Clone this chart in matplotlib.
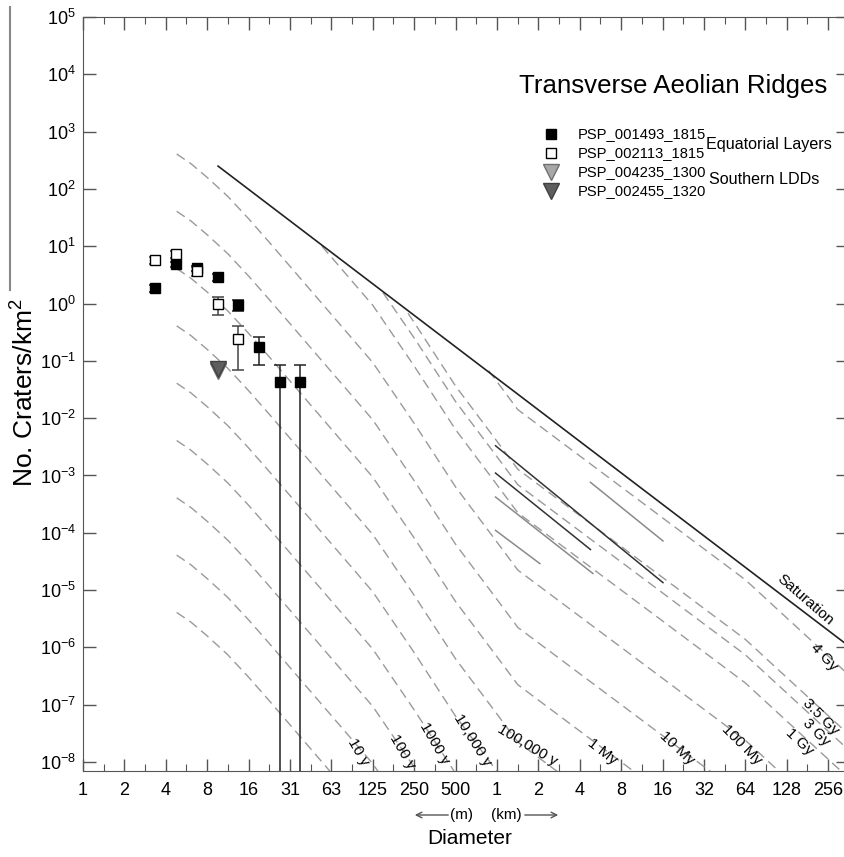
import numpy as np
import matplotlib
matplotlib.use('Agg')
import matplotlib.pyplot as plt
from matplotlib.ticker import FixedLocator, NullFormatter
from matplotlib.lines import Line2D

plt.rcParams.update({
    "font.family": ["Liberation Sans", "DejaVu Sans"],
    "mathtext.default": "regular",
})
NARROW = ["Liberation Sans Narrow", "Liberation Sans", "DejaVu Sans"]

# --- crater counts (diameter in m, N per km^2) ---
bin_d = [3.36, 4.76, 6.73, 9.51, 13.45, 19.0, 26.9, 38.0]
n_001493 = [1.85, 4.85, 4.1, 2.87, 0.93, 0.172, 0.042, 0.042]
e_001493 = [0.28, 0.45, 0.42, 0.35, 0.20, 0.086, 0.042, 0.042]
n_002113 = [5.7, 7.2, 3.66, 0.97, 0.24]
e_002113 = [0.83, 0.94, 0.67, 0.34, 0.17]
d_ldd = [9.51]
n_004235 = [0.066]
n_002455 = [0.073]

# --- isochrons, log10 N per km^2 ---
d_grid = [4.8, 6.1, 8, 11.3, 16, 22.6, 32, 64, 128, 256, 512, 1000,
          1450, 4100, 16400, 65500, 262000, 370000]
iso_1y = [-5.39, -5.56, -5.80, -6.13, -6.52, -6.93, -7.35, -8.19, -9.03]
iso_10y = [-4.39, -4.56, -4.80, -5.13, -5.52, -5.93, -6.35, -7.19, -8.03, -9.09]
iso_100y = [-3.39, -3.56, -3.80, -4.13, -4.52, -4.93, -5.35, -6.19, -7.03,
            -8.09, -9.20]
iso_1ky = [-2.39, -2.56, -2.80, -3.13, -3.52, -3.93, -4.35, -5.19, -6.03,
           -7.09, -8.20, -9.13]
iso_10ky = [-1.39, -1.56, -1.80, -2.13, -2.52, -2.93, -3.35, -4.19, -5.03,
            -6.09, -7.20, -8.13, -8.65]
iso_100ky = [-0.39, -0.56, -0.80, -1.13, -1.52, -1.93, -2.35, -3.19, -4.03,
             -5.09, -6.20, -7.13, -7.65, -8.46]
iso_1my = [0.61, 0.44, 0.20, -0.13, -0.52, -0.93, -1.35, -2.19, -3.03,
           -4.09, -5.20, -6.13, -6.65, -7.46, -8.54]
iso_10my = [1.61, 1.44, 1.20, 0.87, 0.48, 0.07, -0.35, -1.19, -2.03,
            -3.09, -4.20, -5.13, -5.65, -6.46, -7.54, -8.62]
iso_100my = [2.61, 2.44, 2.20, 1.87, 1.48, 1.07, 0.65, -0.19, -1.03,
             -2.09, -3.20, -4.13, -4.65, -5.46, -6.54, -7.62, -8.95]

d_1gy = [54.6, 64, 128, 256, 512, 1000, 1450, 4100, 16400, 65500, 262000, 370000]
iso_1gy = [1.00, 0.81, -0.03, -1.09, -2.20, -3.13, -3.65, -4.46, -5.54,
           -6.62, -7.95, -8.28]
d_3gy = [152, 256, 512, 1000, 1450, 4100, 16400, 65500, 262000, 370000]
iso_3gy = [0.19, -0.60, -1.71, -2.64, -3.16, -3.97, -5.05, -6.13, -7.46, -7.79]
d_35gy = [231, 256, 512, 1000, 1450, 4100, 16400, 65500, 262000, 370000]
iso_35gy = [-0.17, -0.33, -1.44, -2.37, -2.89, -3.70, -4.78, -5.86, -7.19, -7.52]
d_4gy = [891, 1000, 1450, 4100, 16400, 65500, 262000, 370000]
iso_4gy = [-1.17, -1.33, -1.85, -2.66, -3.74, -4.82, -6.15, -6.48]

# saturation equilibrium line
d_sat = [9.6, 345000]
n_sat = [250, 1.2e-6]

# short solid segments between 1 and 16 km
seg_dark = [([1000, 16500], [3.3e-3, 1.35e-5]),
            ([1000, 4900], [1.1e-3, 5.1e-5])]
seg_grey = [([1000, 5100], [4.2e-4, 1.95e-5]),
            ([1000, 2100], [1.1e-4, 2.9e-5]),
            ([4900, 16500], [7.6e-4, 7.2e-5])]

x_ticks = [2 ** k for k in range(19)]
x_labels = ['1', '2', '4', '8', '16', '31', '63', '125', '250', '500',
            '1', '2', '4', '8', '16', '32', '64', '128', '256']

W, H = 845, 857
fig = plt.figure(figsize=(W / 100, H / 100), dpi=100)
ax = fig.add_axes([83 / W, (H - 771) / H, 765 / W, 754 / H])
ax.set_xscale('log', base=2)
ax.set_yscale('log')
ax.set_xlim(1, 2 ** 18.48)
ax.set_ylim(10 ** -8.157, 1e5)

dash = dict(color='#9a9a9a', lw=1.0, dashes=(7, 4))
young = [iso_1y, iso_10y, iso_100y, iso_1ky, iso_10ky, iso_100ky,
         iso_1my, iso_10my, iso_100my]
for v in young:
    ax.plot(d_grid[:len(v)], 10 ** np.array(v), **dash)
for d, v in [(d_1gy, iso_1gy), (d_3gy, iso_3gy), (d_35gy, iso_35gy),
             (d_4gy, iso_4gy)]:
    ax.plot(d, 10 ** np.array(v), **dash)

for d, n in seg_dark:
    ax.plot(d, n, color='#333333', lw=1.1)
for d, n in seg_grey:
    ax.plot(d, n, color='#8a8a8a', lw=1.1)

ax.plot(d_sat, n_sat, color='#222222', lw=1.2)

# crater data
ax.errorbar(bin_d, n_001493, yerr=e_001493, fmt='s', ms=7, mfc='black',
            mec='black', ecolor='#222222', elinewidth=1.1, capsize=4,
            capthick=1.1, zorder=5)
ax.errorbar(bin_d[:len(n_002113)], n_002113, yerr=e_002113, fmt='s', ms=7,
            mfc='white', mec='black', ecolor='#444444', elinewidth=1.1,
            capsize=4, capthick=1.1, zorder=6)
ax.plot(d_ldd, n_004235, 'v', ms=11, mfc='#a8a8a8', mec='#707070', zorder=7)
ax.plot(d_ldd, n_002455, 'v', ms=11, mfc='#5e5e5e', mec='#404040', zorder=8)

# axes styling
for s in ax.spines.values():
    s.set_color('#555555')
ax.xaxis.set_major_locator(FixedLocator(x_ticks))
ax.xaxis.set_minor_locator(FixedLocator([2 ** (k + 0.5) for k in range(19)]))
ax.set_xticklabels(x_labels, family=NARROW, fontsize=13)
ax.xaxis.set_minor_formatter(NullFormatter())
ax.yaxis.set_major_locator(FixedLocator([10.0 ** k for k in range(-8, 6)]))
ax.set_yticklabels([r'$10^{%d}$' % k for k in range(-8, 6)], fontsize=13)
ax.tick_params(which='both', direction='in', top=True, right=True,
               color='#555555')
ax.tick_params(which='major', length=9, width=1)
ax.tick_params(which='minor', length=5, width=0.8)
ax.tick_params(axis='x', pad=8)
ax.tick_params(axis='y', pad=5)

fig.text(25 / W, 1 - 393 / H, r'No. Craters/km$^2$', rotation=90,
         ha='center', va='center', fontsize=19)
fig.text(470 / W, 1 - 838 / H, 'Diameter', ha='center', va='center',
         fontsize=15, family=NARROW)
fig.text(462 / W, 1 - 815 / H, '(m)', ha='center', va='center',
         fontsize=11, family=NARROW)
fig.text(506 / W, 1 - 815 / H, '(km)', ha='center', va='center',
         fontsize=11, family=NARROW)
arr = dict(arrowstyle='->', color='#555555', lw=1)
ax.annotate('', xy=(412 / W, 1 - 815 / H), xytext=(451 / W, 1 - 815 / H),
            xycoords='figure fraction', arrowprops=arr)
ax.annotate('', xy=(561 / W, 1 - 815 / H), xytext=(522 / W, 1 - 815 / H),
            xycoords='figure fraction', arrowprops=arr)
fig.add_artist(Line2D([10 / W, 10 / W], [1 - 7 / H, 1 - 290 / H],
                      color='#888888', lw=1.5))


def axfrac(px, py):
    return (px - 83) / 765, (771 - py) / 754


ax.text(*axfrac(827, 86), 'Transverse Aeolian Ridges', ha='right',
        va='center', fontsize=18.6, transform=ax.transAxes)

# legend
leg_rows = [('PSP_001493_1815', 's', 'black', 'black', 7),
            ('PSP_002113_1815', 's', 'white', 'black', 7),
            ('PSP_004235_1300', 'v', '#a8a8a8', '#707070', 11),
            ('PSP_002455_1320', 'v', '#5e5e5e', '#404040', 11)]
leg_y = [134, 153, 172, 191]
for (lab, m, fc, ec, ms), py in zip(leg_rows, leg_y):
    ax.plot(*axfrac(551, py), m, ms=ms, mfc=fc, mec=ec,
            transform=ax.transAxes, clip_on=False)
    ax.text(*axfrac(578, py), lab, va='center', fontsize=10.6,
            transform=ax.transAxes)
ax.text(*axfrac(706, 144), 'Equatorial Layers', va='center', fontsize=11.6,
        transform=ax.transAxes)
ax.text(*axfrac(709, 180), 'Southern LDDs', va='center', fontsize=11.6,
        transform=ax.transAxes)

# isochron labels
iso_labels = [('10 y', 358, 752, -60), ('100 y', 402, 752, -60),
              ('1000 y', 435, 743, -60), ('10,000 y', 472, 740, -58),
              ('100,000 y', 527, 745, -31), ('1 My', 602, 752, -38),
              ('10 My', 677, 748, -43), ('100 My', 742, 745, -45),
              ('1 Gy', 800, 742, -43), ('3 Gy', 816, 732, -45),
              ('3.5 Gy', 821, 717, -45), ('4 Gy', 824, 657, -47)]
for lab, px, py, rot in iso_labels:
    ax.text(*axfrac(px, py), lab, rotation=rot, ha='center', va='center',
            fontsize=11, family=NARROW, transform=ax.transAxes,
            rotation_mode='anchor')
ax.text(*axfrac(805, 600), 'Saturation', rotation=-41, ha='center',
        va='center', fontsize=11, transform=ax.transAxes,
        rotation_mode='anchor')

fig.savefig('out.png', dpi=100, facecolor='white')
